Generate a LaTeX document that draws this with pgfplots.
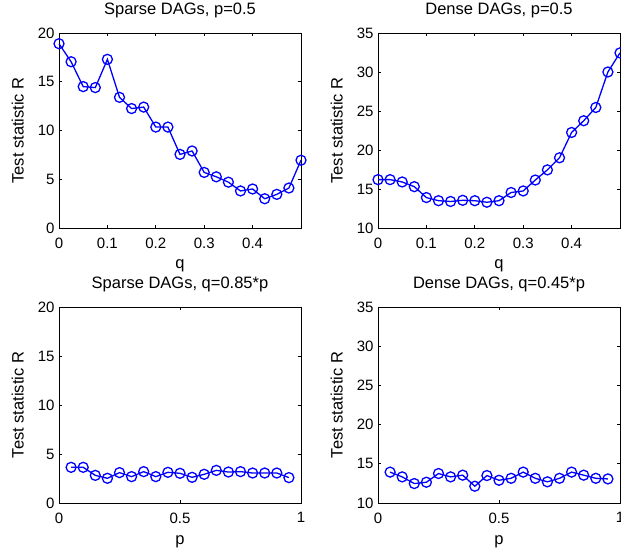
\documentclass[border=0pt]{standalone}
\usepackage{fontspec}
\setmainfont{Liberation Sans}
\usepackage{pgfplots}
\pgfplotsset{compat=1.18}
\definecolor{mblue}{RGB}{0,0,255}
\pgfplotsset{
  dat/.style={draw=mblue, line width=1.3pt, mark=o, mark size=5pt, mark options={solid, draw=mblue, fill=white}},
  mstyle/.style={
    scale only axis, width=242pt, height=195pt,
    anchor=south west,
    clip=false,
    axis line style={line width=0.9pt},
    tick style={line width=0.7pt, black},
    major tick length=3pt,
    tick align=inside,
    /pgf/number format/assume math mode=true,
    ticklabel style={font=\fontsize{15}{18}\selectfont},
    xticklabel style={yshift=-6pt},
    yticklabel style={xshift=-1pt},
    label style={font=\fontsize{16.5}{20}\selectfont},
    title style={font=\fontsize{16.5}{20}\selectfont, at={([yshift=12pt]axis description cs:0.5,1)}, anchor=base},
    xlabel style={at={([yshift=-41pt]axis description cs:0.5,0)}, anchor=base},
    ylabel style={at={([xshift=-35pt]axis description cs:0,0.5)}, anchor=south, inner sep=0pt},
  }
}
\begin{document}
\begin{tikzpicture}
\path[use as bounding box] (0,0) rectangle (621pt,549pt);
% top left
\begin{axis}[mstyle, at={(59pt,321pt)}, xmin=0, xmax=0.5, ymin=0, ymax=20,
  xtick={0,0.1,0.2,0.3,0.4}, ytick={0,5,10,15,20},
  title={Sparse DAGs, p=0.5}, xlabel={q}, ylabel={Test statistic R}]
\addplot[dat] coordinates {(0,18.9) (0.025,17.05) (0.05,14.5) (0.075,14.4) (0.1,17.3) (0.125,13.4) (0.15,12.25) (0.175,12.4) (0.2,10.35) (0.225,10.35) (0.25,7.55) (0.275,7.9) (0.3,5.7) (0.325,5.25) (0.35,4.7) (0.375,3.8) (0.4,4.0) (0.425,3.0) (0.45,3.45) (0.475,4.1) (0.5,6.95)};
\end{axis}
% top right
\begin{axis}[mstyle, at={(378pt,321pt)}, xmin=0, xmax=0.5, ymin=10, ymax=35,
  xtick={0,0.1,0.2,0.3,0.4}, ytick={10,15,20,25,30,35},
  title={Dense DAGs, p=0.5}, xlabel={q}, ylabel={Test statistic R}]
\addplot[dat] coordinates {(0,16.2) (0.025,16.2) (0.05,15.9) (0.075,15.3) (0.1,13.9) (0.125,13.5) (0.15,13.4) (0.175,13.55) (0.2,13.5) (0.225,13.3) (0.25,13.5) (0.275,14.55) (0.3,14.75) (0.325,16.15) (0.35,17.45) (0.375,19.0) (0.4,22.25) (0.425,23.75) (0.45,25.45) (0.475,30.0) (0.5,32.45)};
\end{axis}
% bottom left
\begin{axis}[mstyle, at={(59pt,46pt)}, height=196pt, xmin=0, xmax=1, ymin=0, ymax=20,
  xtick={0,0.5,1}, ytick={0,5,10,15,20},
  title={Sparse DAGs, q=0.85*p}, xlabel={p}, ylabel={Test statistic R}]
\addplot[dat] coordinates {(0.05,3.64) (0.1,3.64) (0.15,2.82) (0.2,2.52) (0.25,3.1) (0.3,2.69) (0.35,3.2) (0.4,2.69) (0.45,3.13) (0.5,3.03) (0.55,2.62) (0.6,2.93) (0.65,3.33) (0.7,3.16) (0.75,3.2) (0.8,3.06) (0.85,3.06) (0.9,3.06) (0.95,2.59)};
\end{axis}
% bottom right
\begin{axis}[mstyle, at={(378pt,46pt)}, height=196pt, xmin=0, xmax=1, ymin=10, ymax=35,
  xtick={0,0.5,1}, ytick={10,15,20,25,30,35},
  title={Dense DAGs, q=0.45*p}, xlabel={p}, ylabel={Test statistic R}]
\addplot[dat] coordinates {(0.05,13.94) (0.1,13.33) (0.15,12.48) (0.2,12.65) (0.25,13.76) (0.3,13.33) (0.35,13.55) (0.4,12.14) (0.45,13.5) (0.5,12.9) (0.55,13.15) (0.6,13.94) (0.65,13.15) (0.7,12.7) (0.75,13.15) (0.8,13.94) (0.85,13.55) (0.9,13.15) (0.95,13.07)};
\end{axis}
\end{tikzpicture}
\end{document}
